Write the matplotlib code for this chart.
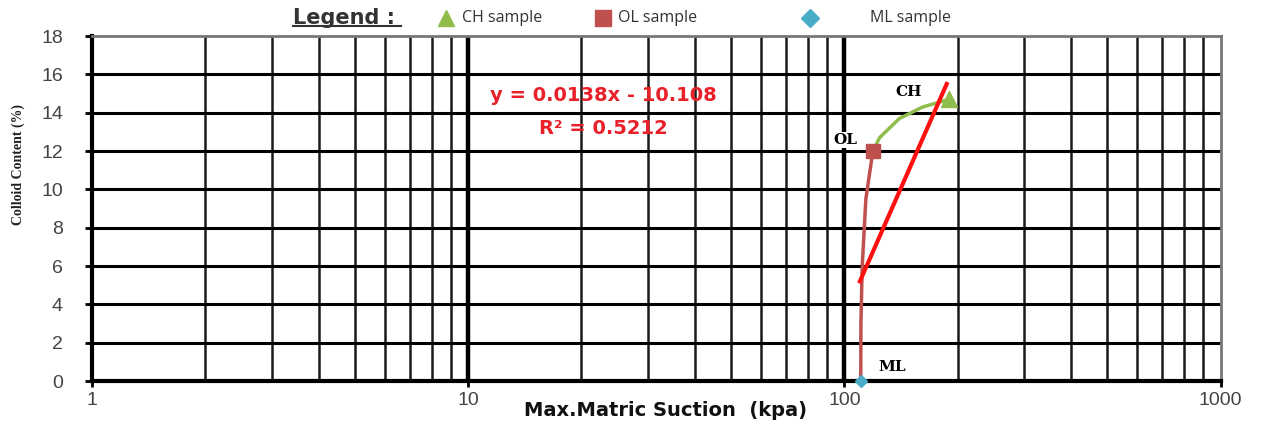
import numpy as np
import matplotlib.pyplot as plt
from matplotlib.lines import Line2D
from matplotlib.ticker import FixedLocator, NullFormatter

# Points (suction in kPa, colloid content in %)
ML_OL_SUCTION = [110.5, 110.6, 111.5, 114, 119]
ML_OL_COLLOID = [0, 3, 6, 9.5, 12]
OL_CH_SUCTION = [119, 124, 140, 161.6, 182.6, 190]
OL_CH_COLLOID = [12, 12.7, 13.7, 14.3, 14.6, 14.7]
SAMPLE_NAMES = ["CH", "OL", "ML"]
SAMPLE_SUCTION = [190, 119, 110.5]
SAMPLE_COLLOID = [14.7, 12, 0]
TREND_SUCTION = [109.9, 187]
TREND_COLLOID = [5.2, 15.5]

X_TICKS = [1, 10, 100, 1000]
Y_TICKS = list(range(0, 19, 2))

GREEN = "#8fbc4a"
BROWN = "#c0504d"
BLUE = "#4bacc6"

fig = plt.figure(figsize=(12.61, 4.24), dpi=100)
ax = fig.add_axes([0.073, 0.1014, 0.895, 0.8136])
ax.set_xscale("log")
ax.set_xlim(1, 1000)
ax.set_ylim(0, 18)

# grid: every 1-2-...-9 per decade, thick at decades
minor = [m * 10 ** d for d in range(3) for m in range(2, 10)]
for xv in minor:
    ax.axvline(xv, color="#1a1a1a", lw=1.8, zorder=1)
for xv in X_TICKS[1:-1]:
    ax.axvline(xv, color="black", lw=3.2, zorder=1)
for yv in Y_TICKS[1:-1]:
    ax.axhline(yv, color="black", lw=2.2, zorder=1)

# curves
ax.plot(ML_OL_SUCTION, ML_OL_COLLOID, color=BROWN, lw=2.5, zorder=3)
ax.plot(OL_CH_SUCTION, OL_CH_COLLOID, color=GREEN, lw=2.5, zorder=3)
ax.plot(TREND_SUCTION, TREND_COLLOID, color="#ff1010", lw=3, zorder=4)

ax.plot(SAMPLE_SUCTION[0], SAMPLE_COLLOID[0], marker="^", color=GREEN,
        ms=11, ls="none", zorder=5, clip_on=False)
ax.plot(SAMPLE_SUCTION[1], SAMPLE_COLLOID[1], marker="s", color=BROWN,
        ms=10, ls="none", zorder=5)
ax.plot(SAMPLE_SUCTION[2], SAMPLE_COLLOID[2], marker="D", color=BLUE,
        ms=6, ls="none", zorder=5, clip_on=False)

label_off = {"CH": (-29, 5), "OL": (-20, 8), "ML": (23, 10)}
for name, xv, yv in zip(SAMPLE_NAMES, SAMPLE_SUCTION, SAMPLE_COLLOID):
    ax.annotate(name, (xv, yv), xytext=label_off[name], textcoords="offset points",
                family="DejaVu Serif", weight="bold", fontsize=11, zorder=6,
                ha="center", va="center",
                bbox=dict(facecolor="white", edgecolor="none", pad=0.5))

ax.text(0.453, 0.829, "y = 0.0138x - 10.108", transform=ax.transAxes,
        color="#e8202a", weight="bold", fontsize=14, ha="center", va="center",
        family="DejaVu Sans", zorder=6)
ax.text(0.453, 0.733, "R\u00b2 = 0.5212", transform=ax.transAxes,
        color="#e8202a", weight="bold", fontsize=14, ha="center", va="center",
        family="DejaVu Sans", zorder=6)

# axes styling
for side in ["left", "bottom"]:
    ax.spines[side].set_linewidth(3)
for side in ["top", "right"]:
    ax.spines[side].set_linewidth(2)
    ax.spines[side].set_color("#777777")
ax.xaxis.set_major_locator(FixedLocator(X_TICKS))
ax.xaxis.set_major_formatter(plt.FuncFormatter(lambda v, p: f"{v:g}"))
ax.xaxis.set_minor_formatter(NullFormatter())
ax.tick_params(axis="x", which="minor", length=0)
ax.tick_params(axis="x", which="major", length=4, width=2, pad=4)
ax.set_yticks(Y_TICKS)
ax.tick_params(axis="y", length=5, width=2, pad=16)
for lab in ax.get_xticklabels() + ax.get_yticklabels():
    lab.set_family("Liberation Sans")
    lab.set_fontsize(14)
    lab.set_color("#444444")

fig.text(0.528, 0.033, "Max.Matric Suction  (kpa)", family="DejaVu Sans",
         weight="bold", fontsize=14, ha="center", va="center", color="#111111")
fig.text(0.0143, 0.611, "Colloid Content (%)", family="Liberation Serif",
         weight="bold", fontsize=10, rotation=90, ha="center", va="center",
         color="#222222")

# legend strip across the top
fig.text(0.2324, 0.9575, "Legend :", family="DejaVu Sans", weight="bold",
         fontsize=15, color="#333333", ha="left", va="center")
fig.add_artist(Line2D([0.2324, 0.318], [0.9387, 0.9387], color="#333333",
                      lw=1.5, transform=fig.transFigure))
legend_items = [
    ("^", GREEN, 12, 0.354, "CH sample", 0.366),
    ("s", BROWN, 11, 0.478, "OL sample", 0.49),
    ("D", BLUE, 9, 0.642, "ML sample", 0.69),
]
for mk, col, ms, mx, txt, tx in legend_items:
    fig.add_artist(Line2D([mx], [0.9575], marker=mk, color=col, ms=ms,
                          ls="none", transform=fig.transFigure))
    fig.text(tx, 0.9575, txt, family="Open Sans", fontsize=11.5,
             color="#333333", ha="left", va="center")

fig.savefig("out.png", dpi=100)
